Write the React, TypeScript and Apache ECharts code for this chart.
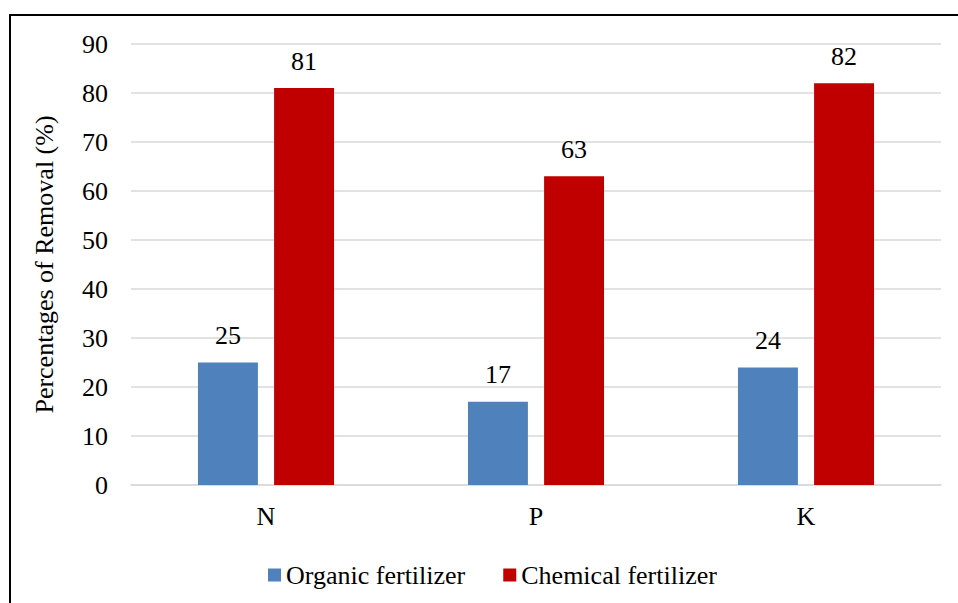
import React, { useEffect, useRef } from "react";
import * as echarts from "echarts";

// Nutrient categories and removal percentages per fertilizer type
const categories = ["N", "P", "K"];
const organicValues = [25, 17, 24];
const chemicalValues = [81, 63, 82];
const seriesNames = ["Organic fertilizer", "Chemical fertilizer"];
const yTicks = { min: 0, max: 90, interval: 10 };

const FONT = "Liberation Serif";

export default function App() {
  const ref = useRef<HTMLDivElement>(null);

  useEffect(() => {
    if (!ref.current) return;
    const chart = echarts.init(ref.current, null, { renderer: "svg" });

    const valueLabel = {
      show: true,
      position: "top" as const,
      distance: 14,
      color: "#000",
      fontFamily: FONT,
      fontSize: 26,
    };

    chart.setOption({
      animation: false,
      backgroundColor: "#fff",
      grid: { left: 131, right: 17, top: 44, bottom: 118, containLabel: false },
      graphic: [
        {
          // frame around the chart area
          type: "rect",
          shape: { x: 10, y: 15, width: 1000, height: 700 },
          style: { fill: "none", stroke: "#000", lineWidth: 2 },
          silent: true,
        },
      ],
      legend: {
        left: 263,
        top: 557,
        itemWidth: 13,
        itemHeight: 13,
        itemGap: 38,
        icon: "rect",
        textStyle: { fontFamily: FONT, fontSize: 26, color: "#000" },
        data: seriesNames,
      },
      xAxis: {
        type: "category",
        data: categories,
        axisLine: { show: true, lineStyle: { color: "#D9D9D9", width: 1.5 } },
        axisTick: { show: false },
        axisLabel: { color: "#000", fontFamily: FONT, fontSize: 26, margin: 18 },
      },
      yAxis: {
        type: "value",
        min: yTicks.min,
        max: yTicks.max,
        interval: yTicks.interval,
        name: "Percentages of Removal (%)",
        nameLocation: "middle",
        nameGap: 74,
        nameRotate: 90,
        nameTextStyle: { color: "#000", fontFamily: FONT, fontSize: 26 },
        axisLine: { show: false },
        axisTick: { show: false },
        axisLabel: { color: "#000", fontFamily: FONT, fontSize: 26, margin: 23 },
        splitLine: { lineStyle: { color: "#D9D9D9", width: 1.5 } },
      },
      series: [
        {
          name: seriesNames[0],
          type: "bar",
          data: organicValues,
          barWidth: "22.2%",
          barGap: "27%",
          itemStyle: { color: "#4F81BD" },
          label: valueLabel,
        },
        {
          name: seriesNames[1],
          type: "bar",
          data: chemicalValues,
          barWidth: "22.2%",
          barGap: "27%",
          itemStyle: { color: "#C00000" },
          label: valueLabel,
        },
      ],
    });

    return () => chart.dispose();
  }, []);

  return (
    <div
      ref={ref}
      style={{ position: "absolute", left: 0, top: 0, width: 958, height: 603 }}
    />
  );
}
